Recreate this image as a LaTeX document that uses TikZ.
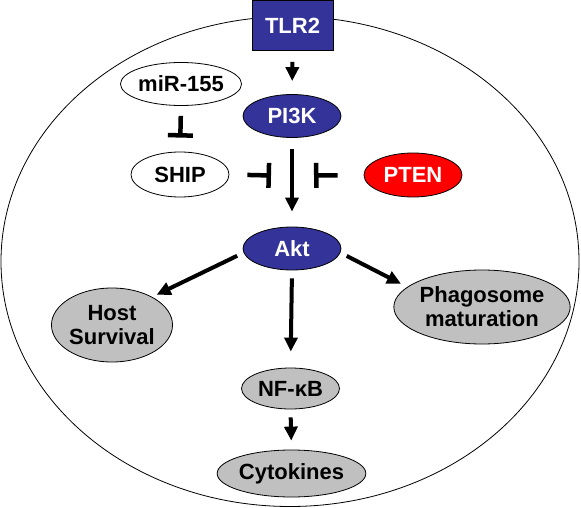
\documentclass[tikz,border=0pt]{standalone}
\usepackage{fontspec}
\setmainfont{Liberation Sans}
\usepackage{xcolor}
\usepackage{tikz}
\usetikzlibrary{
	arrows.meta,shapes
}
\definecolor{tlrblue}{HTML}{333399}
\definecolor{ptenred}{HTML}{FF0000}
\definecolor{outgray}{HTML}{C0C0C0}
\tikzset{
	mol/.style={ellipse,draw=black,line width=0.8pt,inner sep=0pt,
		minimum width=98pt,minimum height=43pt,align=center,
		font=\fontsize{22}{24}\selectfont\bfseries},
	kinase/.style={mol,fill=tlrblue,text=white},
	outcome/.style={mol,fill=outgray},
	act/.style={-{Triangle[width=13pt,length=14pt]},line width=4pt},
	inh/.style={-{Bar[width=25pt]},line width=4.5pt}
}

\begin{document}
\begin{tikzpicture}[x=1pt,y=-1pt]
		\useasboundingbox (0,0) rectangle (581,508);
		\draw[line width=0.8pt] (290,261.5) ellipse [x radius=289pt, y radius=245pt];
		%
		\node[draw=black,line width=0.8pt,fill=tlrblue,text=white,minimum width=81pt,
			minimum height=50pt,font=\fontsize{22}{24}\selectfont\bfseries] (TLR2) at (292.5,25.5) {TLR2};
		\node[mol,fill=white] (miR) at (181,84) {miR-155};
		\node[kinase] (PI3K) at (292,116) {PI3K};
		\node[mol,fill=white,minimum height=45pt] (SHIP) at (180,174.5) {SHIP};
		\node[mol,fill=ptenred,text=white,minimum height=44pt] (PTEN) at (413,175) {PTEN};
		\node[kinase] (Akt) at (292,248.5) {Akt};
		\node[outcome,minimum width=114pt,minimum height=74pt] (Host) at (112,325) {Host\\Survival};
		\node[outcome,minimum width=165pt,minimum height=74pt] (Phago) at (482,307) {Phagosome\\maturation};
		\node[outcome,minimum height=41pt] (NFkB) at (290.5,388.5) {NF-κB};
		\node[outcome,minimum width=123pt,minimum height=47pt] (Cyto) at (291.5,473.5) {Cytokines};
		\coordinate (shipT) at (271,175.5);
		\coordinate (ptenT) at (314,175.5);
		%
		\path[act]
		% vertical arrows
		(TLR2.south) edge[shorten <=11pt,shorten >=13pt] (PI3K.north)
		(PI3K.south) edge[shorten <=11pt,shorten >=15pt] (Akt.north)
		(Akt.south) edge[shorten <=8pt,shorten >=16pt] (NFkB.north)
		(NFkB.south) edge[shorten <=8pt,shorten >=9pt] (Cyto.north)
		% diagonal arrows
		(Akt.185) edge[shorten <=7pt,shorten >=5pt] (Host.35)
		(Akt.355) edge[shorten <=7pt,shorten >=7pt] (Phago.165);
		%
		\path[inh]
		% inhibitions
		(miR.south) edge[shorten <=10pt,shorten >=14pt] (SHIP.north)
		(SHIP.east) edge[shorten <=18pt] (shipT)
		(PTEN.west) edge[shorten <=26pt] (ptenT);
	\end{tikzpicture}
\end{document}
